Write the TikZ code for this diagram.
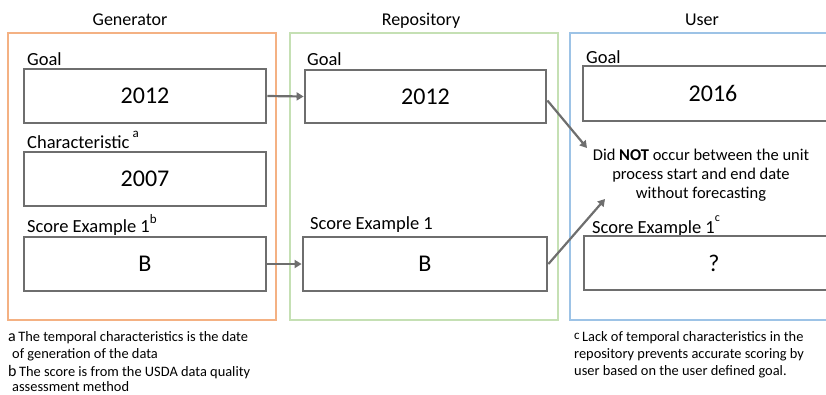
\documentclass[tikz,border=0pt]{standalone}
\usepackage{fontspec}
\setmainfont{Carlito}
\usetikzlibrary{arrows.meta}
\definecolor{gencol}{HTML}{F4B183}
\definecolor{repcol}{HTML}{C5E0B4}
\definecolor{usrcol}{HTML}{9DC3E6}
\definecolor{boxgray}{HTML}{6E6E6E}
\begin{document}
\begin{tikzpicture}[x=1pt,y=-1pt,
  panel/.style={draw=#1,line width=2.5pt},
  valbox/.style={draw=boxgray,line width=2.8pt,fill=white},
  val/.style={font=\fontsize{24}{28}\selectfont},
  lbl/.style={anchor=base west,inner sep=0pt,font=\fontsize{18.5}{22}\selectfont},
  ttl/.style={anchor=base,inner sep=0pt,font=\fontsize{18}{22}\selectfont},
  note/.style={anchor=base west,inner sep=0pt,font=\fontsize{14.4}{16}\selectfont},
  conn/.style={draw=boxgray,line width=2.2pt,-{Triangle[length=7pt,width=8pt]}}]
\useasboundingbox (0,0) rectangle (826,394);
\begin{scope}
\clip (0,0) rectangle (826,394);
% panels
\draw[panel=gencol] (8,33) rectangle (276,320);
\draw[panel=repcol] (290,33) rectangle (558,320);
\draw[panel=usrcol] (570,33) rectangle (840,320);
% titles
\node[ttl] (tgen) at (130,25) {Generator};
\node[ttl] (trep) at (421,25) {Repository};
\node[ttl] (tusr) at (702,25) {User};
% generator
\node[lbl] (lg1) at (27,65) {Goal};
\node[valbox,minimum width=242pt,minimum height=54pt] (g1) at (145,96) {};
\node[val] at (g1) {2012};
\node[lbl] (lg2) at (27,148) {Characteristic\,\raisebox{0.55em}{\fontsize{13}{15}\selectfont a}};
\node[valbox,minimum width=242pt,minimum height=54pt] (g2) at (145,179) {};
\node[val] at (g2) {2007};
\node[lbl] (lg3) at (27,232) {Score Example 1\raisebox{0.45em}{\fontsize{13}{15}\selectfont b}};
\node[valbox,minimum width=242pt,minimum height=54pt] (g3) at (145,264) {};
\node[val] at (g3) {B};
% repository
\node[lbl] (lr1) at (307,65) {Goal};
\node[valbox,minimum width=241pt,minimum height=53pt] (r1) at (425.5,96.5) {};
\node[val] at (r1) {2012};
\node[lbl] (lr3) at (310,229) {Score Example 1};
\node[valbox,minimum width=244pt,minimum height=54pt] (r3) at (425,264) {};
\node[val] at (r3) {B};
% user
\node[lbl] (lu1) at (586,63) {Goal};
\node[valbox,minimum width=260pt,minimum height=55pt] (u1) at (713,93.5) {};
\node[val] at (u1) {2016};
\node[align=center,inner sep=0pt,font=\fontsize{16.5}{19}\selectfont] (msg) at (701,175) {Did \textbf{NOT} occur between the unit\\process start and end date\\without forecasting};
\node[lbl] (lu3) at (592,233) {Score Example 1\raisebox{0.6em}{\fontsize{12}{14}\selectfont c}};
\node[valbox,minimum width=260pt,minimum height=54pt] (u3) at (714,263) {};
\node[val] at (u3) {?};
% connectors
\coordinate (m1) at (587,148);
\coordinate (m2) at (605,199);
\draw[conn] (g1.east) -- (r1.west);
\draw[conn] (g3.east) -- (r3.west);
\draw[conn] ([yshift=-4pt]r1.east) -- (m1);
\draw[conn] (r3.east) -- (m2);
\end{scope}
% footnotes
\node[note] (n1) at (8,341) {{\fontsize{16}{16}\selectfont a}\,The temporal characteristics is the date};
\node[note] (n2) at (12,358) {of generation of the data};
\node[note] (n3) at (8,376) {{\fontsize{16}{16}\selectfont b}\,The score is from the USDA data quality};
\node[note] (n4) at (12,391) {assessment method};
\node[note] (n5) at (574,341) {\raisebox{0.1em}{\fontsize{13}{14}\selectfont c}\,Lack of temporal characteristics in the};
\node[note] (n6) at (574,358) {repository prevents accurate scoring by};
\node[note] (n7) at (574,375) {user based on the user defined goal.};
\end{tikzpicture}
\end{document}
